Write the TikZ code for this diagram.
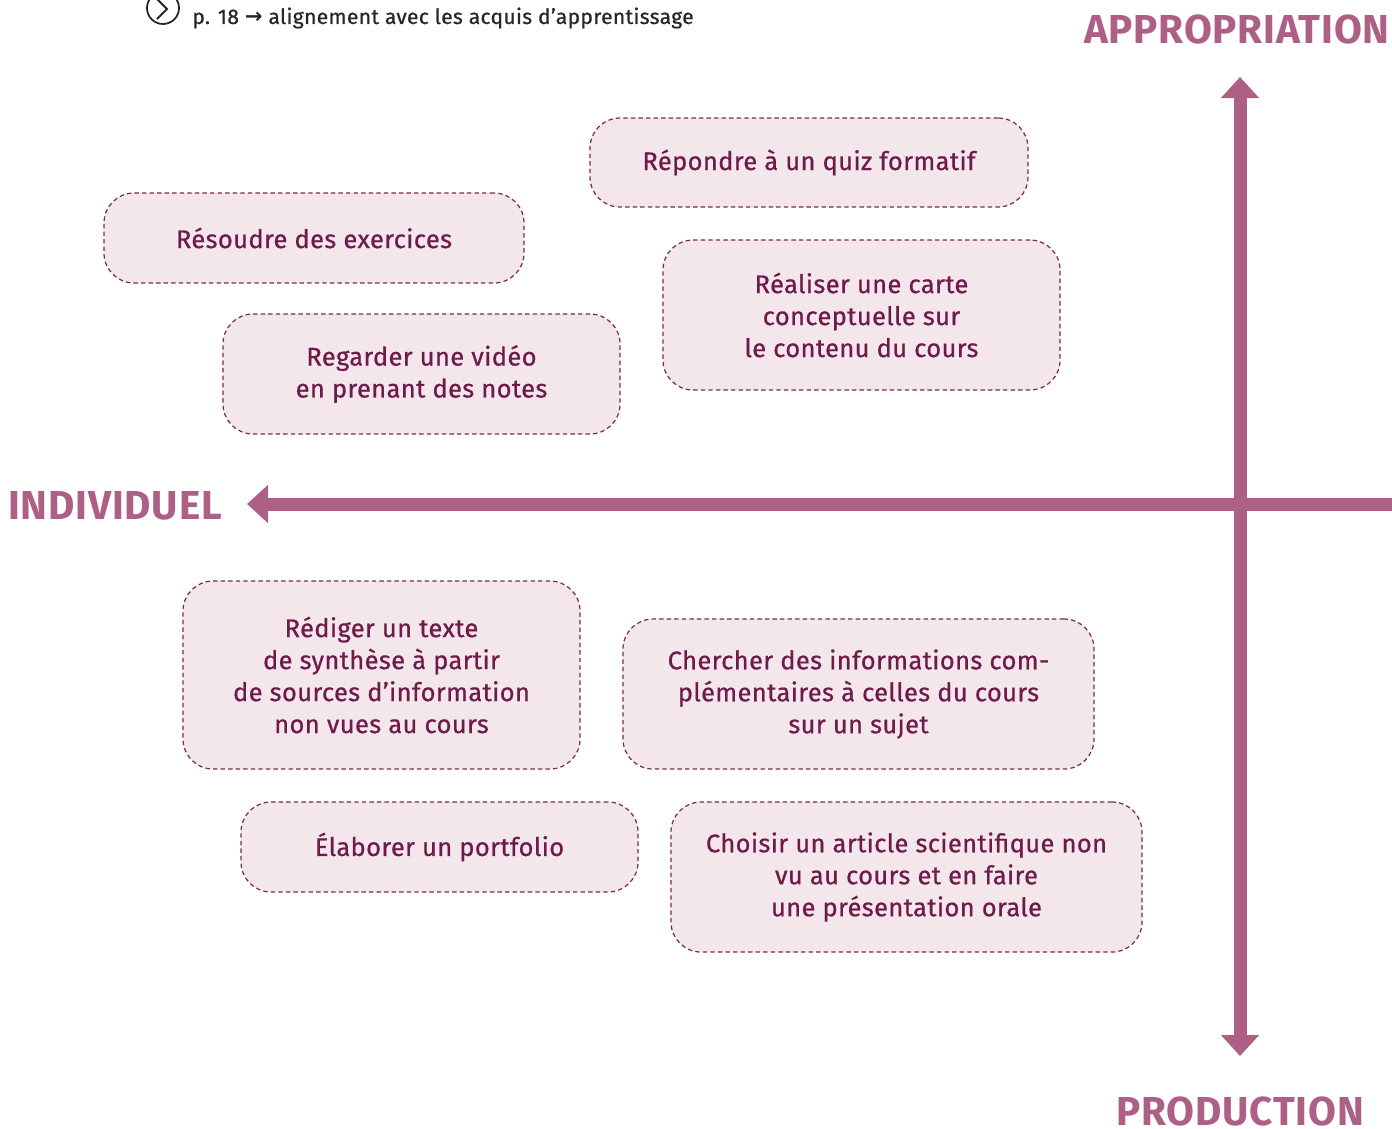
\documentclass[tikz,border=0pt]{standalone}
\usepackage{fontspec}
\setmainfont{Fira Sans}
\newfontfamily\boxfont{Fira Sans}[BoldFont=Fira Sans, BoldFeatures={FakeBold=0.7}, LetterSpace=1.5]
\newfontfamily\labelfont{Fira Sans}[LetterSpace=2]
\newfontfamily\symfont{DejaVu Sans}
\usetikzlibrary{arrows.meta}
\usetikzlibrary{positioning}
\definecolor{axiscol}{HTML}{AD5F86}
\definecolor{boxfill}{HTML}{F3E7EC}
\definecolor{boxtext}{HTML}{6E1A4A}
\definecolor{boxline}{HTML}{7A2A58}

\begin{document}
\begin{tikzpicture}[x=1cm,y=1cm,
    activity/.style={draw=boxline, fill=boxfill, text=boxtext, rounded corners=0.6cm,
        line width=0.7pt, dash pattern=on 2.5pt off 1.8pt, align=center,
        font=\boxfont\bfseries\fontsize{14.5}{18.2}\selectfont, inner sep=0pt},
    axislabel/.style={text=axiscol, font=\labelfont\fontsize{23}{26}\selectfont\bfseries, inner sep=0pt},
    axisline/.style={draw=axiscol, line width=7.4pt}]
            \useasboundingbox (0,0) rectangle (27.84,-22.56);

            % header line (top left)
            \draw[line width=1pt, black!85] (3.26,-0.16) circle (0.32);
            \draw[line width=1.1pt, black!85] (3.14,0.02) -- (3.34,-0.18) -- (3.14,-0.38);
            \node[anchor=west, inner sep=0pt, font=\boxfont\bfseries\fontsize{12}{15}\selectfont, text=black!85] (ref) at (3.84,-0.36)
                {p. 18 {\symfont →} alignement avec les acquis d’apprentissage};

            % axes
            \coordinate (top) at (24.8,-1.54);
            \coordinate (bottom) at (24.8,-21.12);
            \coordinate (left) at (4.94,-10.08);
            \coordinate (right) at (27.84,-10.08);
            \draw[axisline, {Triangle[width=0.74cm,length=0.42cm]}-{Triangle[width=0.74cm,length=0.42cm]}] (bottom) -- (top);
            \draw[axisline, -{Triangle[width=0.74cm,length=0.42cm]}] (right) -- (left);

            \node[axislabel, anchor=east] (appro) at (27.8,-0.58) {APPROPRIATION};
            \node[axislabel, anchor=west] (indiv) at (0.16,-10.12) {INDIVIDUEL};
            \node[axislabel] (prod) at (24.8,-22.22) {PRODUCTION};

            % activities
            \node[activity, minimum width=8.76cm, minimum height=1.78cm] (quiz) at (16.18,-3.25) {Répondre à un quiz formatif};
            \node[activity, minimum width=8.4cm, minimum height=1.8cm] (exercices) at (6.28,-4.76) {Résoudre des exercices};
            \node[activity, minimum width=7.94cm, minimum height=2.4cm] (video) at (8.43,-7.48) {Regarder une vidéo\\en prenant des notes};
            \node[activity, minimum width=7.94cm, minimum height=3.0cm] (carte) at (17.23,-6.3) {Réaliser une carte\\conceptuelle sur\\le contenu du cours};
            \node[activity, minimum width=7.94cm, minimum height=3.76cm] (texte) at (7.63,-13.5) {Rédiger un texte\\de synthèse à partir\\de sources d’information\\non vues au cours};
            \node[activity, minimum width=9.42cm, minimum height=3.0cm] (infos) at (17.17,-13.88) {Chercher des informations com-\\plémentaires à celles du cours\\sur un sujet};
            \node[activity, minimum width=7.94cm, minimum height=1.8cm] (portfolio) at (8.79,-16.94) {Élaborer un portfolio};
            \node[activity, minimum width=9.42cm, minimum height=3.0cm] (article) at (18.13,-17.54) {Choisir un article scientifique non\\vu au cours et en faire\\une présentation orale};
        \end{tikzpicture}
\end{document}
